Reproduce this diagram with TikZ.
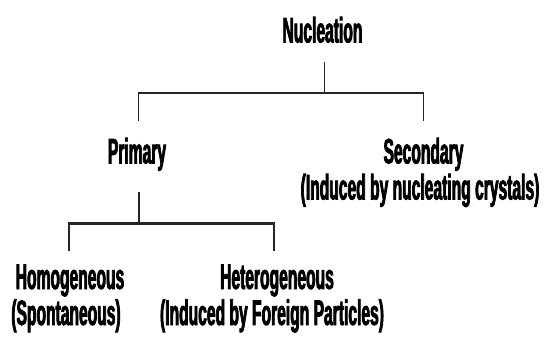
\documentclass[tikz,border=0pt]{standalone}
\usepackage{fontspec}
\newfontfamily\cond[FakeStretch=0.44,FakeBold=2]{Liberation Sans Bold}
\begin{document}
\begin{tikzpicture}[x=1pt,y=-1pt,
  lbl/.style={font=\cond\fontsize{35.5}{36}\selectfont, inner sep=0pt, anchor=base, text=black},
  vl/.style={line width=1.4pt, draw=black!85},
  hl/.style={line width=2.4pt, draw=black!85}]
\useasboundingbox (0,0) rectangle (547,338);
\node[lbl] (nuc) at (322.5,42.5) {Nucleation};
\node[lbl] (prim) at (137,163.5) {Primary};
\node[lbl] (sec) at (423.5,163.5) {Secondary};
\node[lbl] (secb) at (420,199.5) {(Induced by nucleating crystals)};
\node[lbl] (hom) at (70,289) {Homogeneous};
\node[lbl] (homb) at (66,325) {(Spontaneous)};
\node[lbl] (het) at (277,289) {Heterogeneous};
\node[lbl] (hetb) at (272,325) {(Induced by Foreign Particles)};
% top level connectors
\coordinate (nucs) at (324.5,62);
\coordinate (j1) at (324.5,93);
\coordinate (j1l) at (138.5,93);
\coordinate (j1r) at (423.5,93);
\coordinate (primt) at (138.5,121);
\coordinate (sect) at (423.5,121);
\draw[vl] (nucs) -- (j1);
\draw[hl] ([xshift=-0.7pt]j1l) -- ([xshift=0.7pt]j1r);
\draw[vl] (j1l) -- (primt);
\draw[vl] (j1r) -- (sect);
% second level connectors
\coordinate (prims) at (139,192);
\coordinate (j2) at (139,223.5);
\coordinate (j2l) at (69,223.5);
\coordinate (j2r) at (274,223.5);
\coordinate (homt) at (69,251);
\coordinate (hett) at (274,251);
\draw[vl] (prims) -- (j2);
\draw[hl] ([xshift=-0.7pt]j2l) -- ([xshift=0.7pt]j2r);
\draw[vl] (j2l) -- (homt);
\draw[vl] (j2r) -- (hett);
\end{tikzpicture}
\end{document}
